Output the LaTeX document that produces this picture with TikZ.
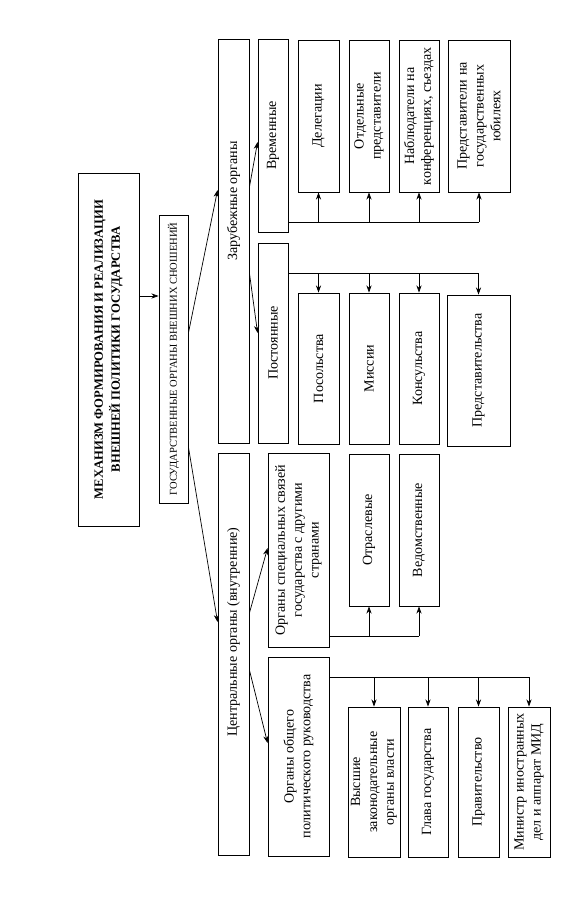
\documentclass[tikz,border=0pt]{standalone}
\usepackage{fontspec}
\setmainfont{Liberation Serif}
\usetikzlibrary{arrows.meta}
\tikzset{
  org box/.style={draw, line width=0.6pt, rotate=90, align=center, inner sep=1pt,
    font=\fontsize{10}{12}\selectfont},
  org size/.style 2 args={minimum width=#1*0.25mm, minimum height=#2*0.25mm},
  org line/.style={line width=0.5pt},
  org arrow/.style={-{Stealth[length=1.8mm,width=1.3mm]}, line width=0.5pt}
}

\begin{document}
\begin{tikzpicture}[x=0.25mm,y=-0.25mm]
  \useasboundingbox (0,0) rectangle (588,900);
  % top levels
  \node[org box, org size={353}{61}, font=\bfseries\fontsize{9}{12}\selectfont] (title) at (108.5,349.5)
    {МЕХАНИЗМ ФОРМИРОВАНИЯ И РЕАЛИЗАЦИИ\\ВНЕШНЕЙ ПОЛИТИКИ ГОСУДАРСТВА};
  \node[org box, org size={288}{29}, font=\fontsize{7.5}{9}\selectfont] (gos) at (173.5,359)
    {ГОСУДАРСТВЕННЫЕ ОРГАНЫ ВНЕШНИХ СНОШЕНИЙ};
  \node[org box, org size={404}{31}] (zarub) at (233.5,241) {\hspace*{20mm}Зарубежные органы};
  \node[org box, org size={402}{31}] (centr) at (233.5,654) {\hspace*{11mm}Центральные органы (внутренние)};
  % second level
  \node[org box, org size={193}{30}] (vrem) at (273,135.5) {Временные};
  \node[org box, org size={200}{30}] (post) at (273,343) {Постоянные};
  \node[org box, org size={194}{61}] (spec) at (298.5,550)
    {Органы специальных связей\\государства с другими\\странами};
  \node[org box, org size={199}{61}] (obsh) at (298.5,756.5)
    {Органы общего\\политического руководства};
  % temporary bodies
  \node[org box, org size={152}{41}] (del) at (318.5,116) {Делегации};
  \node[org box, org size={152}{40}] (otd) at (369,116) {Отдельные\\представители};
  \node[org box, org size={152}{40}] (nabl) at (419,116) {Наблюдатели на\\конференциях, съездах};
  \node[org box, org size={152}{62}] (jub) at (479,116)
    {Представители на\\государственных\\юбилеях};
  % permanent bodies
  \node[org box, org size={151}{41}] (posol) at (318.5,368.5) {Посольства};
  \node[org box, org size={151}{40}] (miss) at (369,368.5) {Миссии};
  \node[org box, org size={151}{40}] (kons) at (419,368.5) {Консульства};
  \node[org box, org size={151}{63}] (predst) at (478.5,370.5) {Представительства};
  % special links
  \node[org box, org size={152}{40}] (otr) at (369,530) {Отраслевые};
  \node[org box, org size={152}{40}] (ved) at (419,530) {Ведомственные};
  % general leadership
  \node[org box, org size={150}{52}] (vys) at (374,782)
    {Высшие\\законодательные\\органы власти};
  \node[org box, org size={150}{40}] (glava) at (428,782) {Глава государства};
  \node[org box, org size={150}{41}] (prav) at (478.5,782) {Правительство};
  \node[org box, org size={150}{42}] (min) at (529,782)
    {Министр иностранных\\дел и аппарат МИД};

  % connectors
  \draw[org arrow] (title.south |- 0,296) -- (gos.north |- 0,296);
  \draw[org arrow] (gos.south |- 0,333) -- (zarub.north |- 0,190);
  \draw[org arrow] (gos.south |- 0,447) -- (centr.north |- 0,622);
  \draw[org arrow] (zarub.south |- 0,187) -- (vrem.north |- 0,142);
  \draw[org arrow] (zarub.south |- 0,273) -- (post.north |- 0,333);
  \draw[org arrow] (centr.south |- 0,613) -- (spec.north |- 0,548);
  \draw[org arrow] (centr.south |- 0,670) -- (obsh.north |- 0,743);

  \draw[org line] (vrem.south |- 0,222) -- (jub |- 0,222);
  \foreach \n in {del,otd,nabl,jub}
    \draw[org arrow] (\n |- 0,222) -- (\n.west);
  \draw[org line] (post.south |- 0,273) -- (predst |- 0,273);
  \foreach \n in {posol,miss,kons,predst}
    \draw[org arrow] (\n |- 0,273) -- (\n.east);
  \draw[org line] (spec.south |- 0,636) -- (ved |- 0,636);
  \foreach \n in {otr,ved}
    \draw[org arrow] (\n |- 0,636) -- (\n.west);
  \draw[org line] (obsh.south |- 0,677) -- (min |- 0,677);
  \foreach \n in {vys,glava,prav,min}
    \draw[org arrow] (\n |- 0,677) -- (\n.east);
\end{tikzpicture}
\end{document}
